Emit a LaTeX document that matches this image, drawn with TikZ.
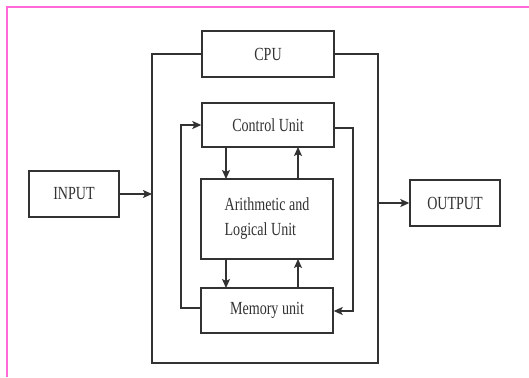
\documentclass[tikz,border=0pt]{standalone}
\usepackage{fontspec}
\setmainfont{Liberation Serif}
\usetikzlibrary{arrows.meta}
\definecolor{pinkframe}{RGB}{255,104,214}
\definecolor{ink}{RGB}{50,50,50}
\newcommand{\sq}[1]{\scalebox{0.76}[1]{#1}}
\begin{document}
\begin{tikzpicture}[x=1pt,y=-1pt,
  box/.style={draw=ink,line width=1.4pt,inner sep=0pt,text=ink},
  wire/.style={draw=ink,line width=1.3pt},
  arr/.style={wire,-{Stealth[length=9pt,width=8pt,inset=2pt]}},
  lbl/.style={font=\fontsize{18.5}{25}\selectfont,text=ink}]
\useasboundingbox (0,0) rectangle (529,377);
\fill[white] (0,0) rectangle (529,377);
\draw[pinkframe,line width=2pt] (7,377) -- (7,7) -- (529,7);
% boxes
\node[box,minimum width=132pt,minimum height=46pt] (cpu) at (268,54) {};
\node[lbl] at (cpu.center) {\sq{CPU}};
\node[box,minimum width=132pt,minimum height=44pt] (cu) at (268,125) {};
\node[lbl] at (cu.center) {\sq{Control Unit}};
\node[box,minimum width=132pt,minimum height=80pt] (alu) at (267,219) {};
\node[lbl,align=left] at (alu.center) {\sq{Arithmetic and}\\\sq{Logical Unit}};
\node[box,minimum width=132pt,minimum height=45pt] (mem) at (267,310.5) {};
\node[lbl] at (mem.center) {\sq{Memory unit}};
\node[box,minimum width=90pt,minimum height=46pt] (in) at (74,194) {};
\node[lbl] at (in.center) {\sq{INPUT}};
\node[box,minimum width=90pt,minimum height=46pt] (out) at (455,203) {};
\node[lbl] at (out.center) {\sq{OUTPUT}};
% outer frame
\coordinate (fl) at (152,194);
\coordinate (fr) at (378,203);
\draw[wire] (cpu.west) -- (152,54) -- (152,363) -- (378,363) -- (378,54) -- (cpu.east);
\draw[arr] (in.east) -- (fl);
\draw[arr] (fr) -- (out.west);
% loops
\draw[arr] (mem.west |- 0,308) -- (181,308) -- (181,125) -- (cu.west);
\draw[arr] (cu.east |- 0,128) -- (353,128) -- (353,311) -- (mem.east |- 0,311);
% vertical arrows
\draw[arr] (226,147) -- (226,179);
\draw[arr] (298,179) -- (298,147);
\draw[arr] (226,259) -- (226,288);
\draw[arr] (298,288) -- (298,259);
\end{tikzpicture}
\end{document}
